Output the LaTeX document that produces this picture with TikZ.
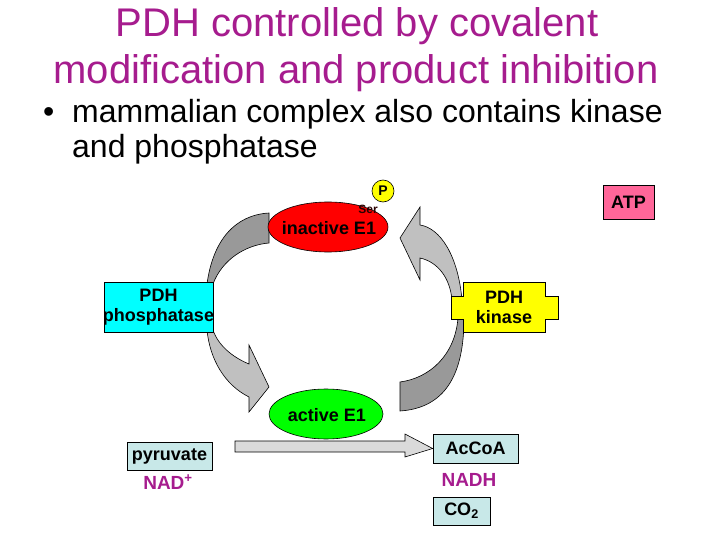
\documentclass[tikz,border=0pt]{standalone}
\usepackage{fontspec}
\setmainfont{Liberation Sans}
\usetikzlibrary{shapes.geometric}
\definecolor{titlemag}{RGB}{166,28,142}
\definecolor{darkband}{RGB}{153,153,153}
\definecolor{lightband}{RGB}{192,192,192}
\definecolor{straightgray}{RGB}{218,218,218}
\definecolor{lightcyan}{RGB}{200,232,232}
\definecolor{atppink}{RGB}{255,102,153}
\definecolor{boxcyan}{RGB}{0,255,255}
\definecolor{boxyellow}{RGB}{255,255,0}
\definecolor{ellred}{RGB}{255,0,0}
\definecolor{ellgreen}{RGB}{0,255,0}
\tikzset{
  band/.style={draw=black, line width=0.6pt, line join=miter},
  lbl/.style={font=\fontsize{18}{20}\selectfont\bfseries, align=center, inner sep=0pt},
  smallbox/.style={draw=black, line width=0.7pt, fill=lightcyan, minimum height=28pt, inner sep=0pt, font=\fontsize{18}{20}\selectfont\bfseries},
  magtxt/.style={text=titlemag, font=\fontsize{19}{20}\selectfont\bfseries, inner sep=0pt},
}
\begin{document}
\begin{tikzpicture}[x=1pt,y=-1pt]
\useasboundingbox (0,0) rectangle (720,540);
% title
\node[anchor=base, text=titlemag, font=\fontsize{40}{47}\selectfont, inner sep=0pt] (t1) at (357,37) {PDH controlled by covalent};
\node[anchor=base, text=titlemag, font=\fontsize{40}{47}\selectfont, inner sep=0pt] (t2) at (356,84) {modification and product inhibition};
% bullet
\node[anchor=base west, font=\fontsize{32}{37}\selectfont, inner sep=0pt] (bul) at (43,123) {•};
\node[anchor=base west, font=\fontsize{32}{37}\selectfont, inner sep=0pt] (b1) at (72,123) {mammalian complex also contains kinase};
\node[anchor=base west, font=\fontsize{32}{37}\selectfont, inner sep=0pt] (b2) at (72,158) {and phosphatase};
% curved arrows
\draw[band, fill=darkband] (207,284) .. controls (213,240) and (235,215) .. (269,213) -- (269,243) .. controls (245,245) and (222,260) .. (213,284) -- cycle;
\draw[band, fill=lightband] (207,330) .. controls (210,360) and (225,385) .. (249,397) -- (249,412) -- (269,387) -- (249,345) -- (249,364) .. controls (232,357) and (218,345) .. (213,330) -- cycle;
\draw[band, fill=lightband] (400,238) -- (420,207) -- (420,225) .. controls (440,228) and (458,255) .. (462,300) -- (452,300) .. controls (450,278) and (438,262) .. (420,258) -- (420,280) -- cycle;
\draw[band, fill=darkband] (464,318) .. controls (464,375) and (445,408) .. (400,411) -- (400,382) .. controls (430,378) and (455,355) .. (458,318) -- cycle;
% ellipses
\node[ellipse, draw=black, line width=0.6pt, fill=ellred, minimum width=120pt, minimum height=50pt, inner sep=0pt] (inact) at (328,227) {};
\node[lbl] (inacttxt) at (329,228) {inactive E1};
\node[ellipse, draw=black, line width=0.6pt, fill=ellgreen, minimum width=114pt, minimum height=50pt, inner sep=0pt] (act) at (326,414) {};
\node[lbl] (acttxt) at (327,415) {active E1};
% P and Ser
\node[circle, draw=black, line width=0.6pt, fill=boxyellow, minimum size=22pt, inner sep=0pt, font=\fontsize{14}{14}\selectfont\bfseries] (p) at (383,191) {P};
\node[inner sep=0pt, font=\fontsize{12}{12}\selectfont\bfseries, text={rgb,255:red,40;green,0;blue,0}] (ser) at (368,209) {Ser};
% phosphatase box
\node[draw=black, line width=0.7pt, fill=boxcyan, minimum width=109pt, minimum height=50pt, inner sep=0pt] (phos) at (158.5,307) {};
\node[lbl] (phostxt) at (158.5,307) {PDH\\phosphatase};
% kinase box
\draw[line width=0.7pt, fill=boxyellow] (451,296) -- (463,296) -- (463,282) -- (545,282) -- (545,296) -- (558,296) -- (558,319) -- (545,319) -- (545,332) -- (463,332) -- (463,319) -- (451,319) -- cycle;
\node[lbl] (kin) at (504,307) {PDH\\kinase};
% ATP
\node[draw=black, line width=0.7pt, fill=atppink, minimum width=51pt, minimum height=34pt, inner sep=0pt, font=\fontsize{18}{20}\selectfont\bfseries] (atp) at (628.5,202) {ATP};
% bottom reaction
\node[smallbox, minimum width=85pt] (pyr) at (169.5,456) {pyruvate};
\node[smallbox, minimum width=85pt, minimum height=29pt] (acoa) at (475.5,448.5) {AcCoA};
\node[smallbox, minimum width=57pt] (co2) at (461.5,511) {CO\textsubscript{2}};
\node[magtxt] (nad) at (168,482) {NAD\textsuperscript{+}};
\node[magtxt] (nadh) at (469,480) {NADH};
\draw[line width=0.6pt, fill=straightgray] (235,441) -- (405,441) -- (405,434) -- (acoa.west) -- (405,457) -- (405,452) -- (235,452) -- cycle;
\end{tikzpicture}
\end{document}
